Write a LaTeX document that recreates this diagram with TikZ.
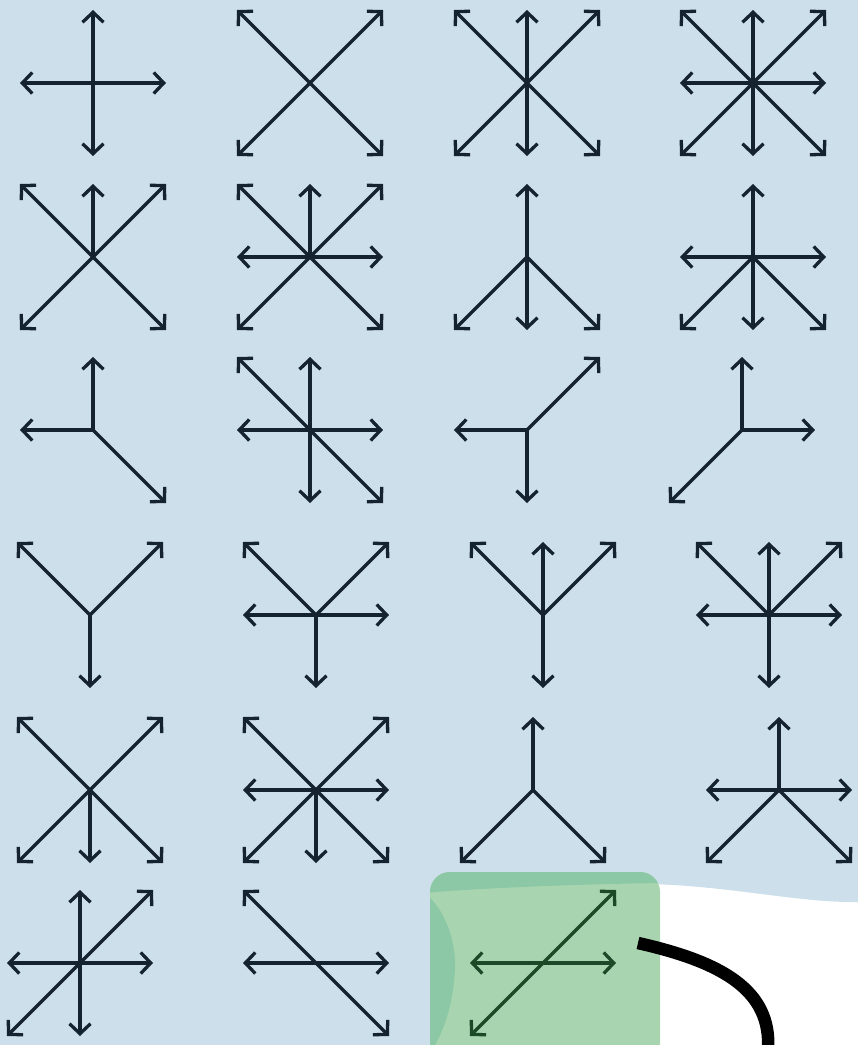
\documentclass[tikz,border=0pt]{standalone}
\usetikzlibrary{arrows.meta}
\definecolor{bgblue}{HTML}{CDDFEB}
\definecolor{ink}{HTML}{152330}
\definecolor{inkgreen}{HTML}{1C4A29}
\definecolor{boxgreen}{HTML}{A8D5AF}
\definecolor{boxteal}{HTML}{8CC8A6}
\tikzset{
  arr/.style={draw=ink, line width=3.3pt, -{Straight Barb[length=10pt,width=21pt]}},
  arrgreen/.style={arr, draw=inkgreen},
}
% #1 = coordinate name, #2 = style, #3 = list of dx/dy directions
\newcommand\arrowglyph[3]{%
  \foreach \dx/\dy in {#3} {\draw[#2] (#1) -- ++(73*\dx,73*\dy);}%
}
\begin{document}
\begin{tikzpicture}[x=1pt,y=-1pt]
\useasboundingbox (0,0) rectangle (858,1045);
\begin{scope}
\clip (0,0) rectangle (858,1045);
% background
\fill[bgblue] (0,0) -- (858,0) -- (858,902) .. controls (800,903) and (730,886) .. (650,884) -- (650,1045) -- (0,1045) -- cycle;
% green highlight box
\fill[boxgreen, rounded corners=20pt] (430,872) rectangle (660,1080);
\begin{scope}
\clip[rounded corners=20pt] (430,872) rectangle (660,1080);
\fill[boxteal] (425,868) -- (665,868) -- (665,883) .. controls (580,884) and (480,888) .. (425,893) -- cycle;
\fill[boxteal] (425,893) .. controls (445,910) and (456,940) .. (455,968) .. controls (454,1000) and (445,1030) .. (432,1050) -- (425,1050) -- cycle;
\end{scope}
% black curve
\coordinate (cs) at (638,943);
\coordinate (ce) at (768,1050);
\draw[black, line width=12.5pt] (cs) .. controls (722,962) and (772,990) .. (ce);
\end{scope}
% glyph centres
\coordinate (g1) at (93,83);
\coordinate (g2) at (310,83);
\coordinate (g3) at (527,83);
\coordinate (g4) at (753,83);
\coordinate (g5) at (93,257);
\coordinate (g6) at (310,257);
\coordinate (g7) at (527,257);
\coordinate (g8) at (753,257);
\coordinate (g9) at (93,430);
\coordinate (g10) at (310,430);
\coordinate (g11) at (527,430);
\coordinate (g12) at (742,430);
\coordinate (g13) at (90,615);
\coordinate (g14) at (316,615);
\coordinate (g15) at (543,615);
\coordinate (g16) at (769,615);
\coordinate (g17) at (90,790);
\coordinate (g18) at (316,790);
\coordinate (g19) at (533,790);
\coordinate (g20) at (779,790);
\coordinate (g21) at (80,963);
\coordinate (g22) at (316,963);
\coordinate (g23) at (543,963);
% N=0/-1 S=0/1 E=1/0 W=-1/0 NE=1/-1 NW=-1/-1 SE=1/1 SW=-1/1
\arrowglyph{g1}{arr}{0/-1,0/1,1/0,-1/0}
\arrowglyph{g2}{arr}{1/-1,-1/-1,1/1,-1/1}
\arrowglyph{g3}{arr}{1/-1,-1/-1,1/1,-1/1,0/-1,0/1}
\arrowglyph{g4}{arr}{1/-1,-1/-1,1/1,-1/1,0/-1,0/1,1/0,-1/0}
\arrowglyph{g5}{arr}{1/-1,-1/-1,1/1,-1/1,0/-1}
\arrowglyph{g6}{arr}{1/-1,-1/-1,1/1,-1/1,0/-1,1/0,-1/0}
\arrowglyph{g7}{arr}{0/-1,-1/1,0/1,1/1}
\arrowglyph{g8}{arr}{0/-1,-1/0,1/0,-1/1,0/1,1/1}
\arrowglyph{g9}{arr}{0/-1,-1/0,1/1}
\arrowglyph{g10}{arr}{-1/-1,0/-1,-1/0,1/0,0/1,1/1}
\arrowglyph{g11}{arr}{-1/0,1/-1,0/1}
\arrowglyph{g12}{arr}{0/-1,1/0,-1/1}
\arrowglyph{g13}{arr}{-1/-1,1/-1,0/1}
\arrowglyph{g14}{arr}{-1/-1,1/-1,-1/0,1/0,0/1}
\arrowglyph{g15}{arr}{-1/-1,0/-1,1/-1,0/1}
\arrowglyph{g16}{arr}{-1/-1,0/-1,1/-1,-1/0,1/0,0/1}
\arrowglyph{g17}{arr}{-1/-1,1/-1,-1/1,0/1,1/1}
\arrowglyph{g18}{arr}{-1/-1,1/-1,-1/0,1/0,-1/1,0/1,1/1}
\arrowglyph{g19}{arr}{0/-1,-1/1,1/1}
\arrowglyph{g20}{arr}{0/-1,-1/0,1/0,-1/1,1/1}
\arrowglyph{g21}{arr}{0/-1,1/-1,-1/0,1/0,-1/1,0/1}
\arrowglyph{g22}{arr}{-1/-1,-1/0,1/0,1/1}
\arrowglyph{g23}{arrgreen}{-1/0,1/0,1/-1,-1/1}
\end{tikzpicture}
\end{document}
